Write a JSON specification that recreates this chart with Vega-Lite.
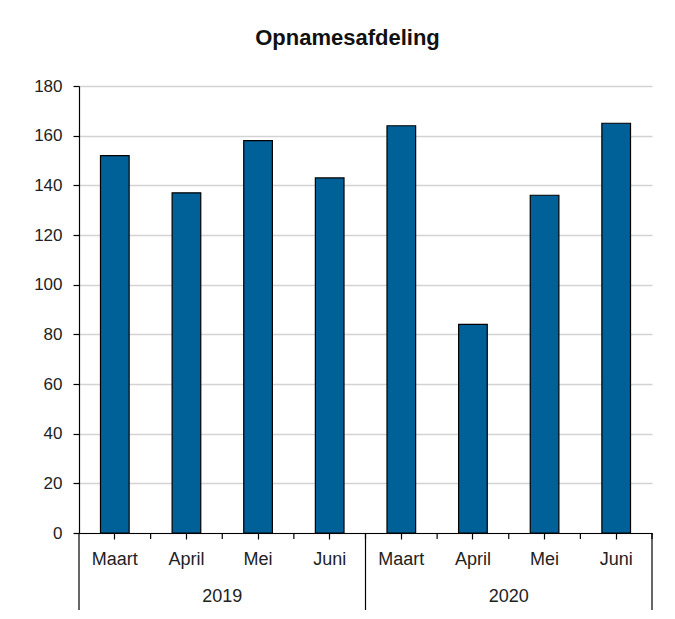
{
  "$schema": "https://vega.github.io/schema/vega-lite/v6.json",
  "autosize": {"type": "none"},
  "padding": {"left": 79, "top": 86, "right": 23, "bottom": 86},
  "width": 573,
  "height": 447,
  "title": {
    "text": "Opnamesafdeling",
    "font": "Liberation Sans",
    "fontSize": 22,
    "fontWeight": "bold",
    "color": "#111111",
    "anchor": "middle",
    "dx": -18,
    "offset": 27
  },
  "data": {
    "values": [
      {"year": "2019", "month": "Maart", "key": "2019 Maart", "value": 152},
      {"year": "2019", "month": "April", "key": "2019 April", "value": 137},
      {"year": "2019", "month": "Mei", "key": "2019 Mei", "value": 158},
      {"year": "2019", "month": "Juni", "key": "2019 Juni", "value": 143},
      {"year": "2020", "month": "Maart", "key": "2020 Maart", "value": 164},
      {"year": "2020", "month": "April", "key": "2020 April", "value": 84},
      {"year": "2020", "month": "Mei", "key": "2020 Mei", "value": 136},
      {"year": "2020", "month": "Juni", "key": "2020 Juni", "value": 165}
    ]
  },
  "encoding": {
    "x": {
      "field": "key",
      "type": "nominal",
      "sort": null,
      "scale": {"paddingInner": 0, "paddingOuter": 0},
      "axis": {
        "title": null,
        "labelExpr": "split(datum.value, ' ')[1]",
        "labelAngle": 0,
        "labelFont": "Liberation Sans",
        "labelFontSize": 18,
        "labelColor": "#222222",
        "labelPadding": 11,
        "domainColor": "#000000",
        "domainWidth": 1.2,
        "tickColor": "#000000",
        "tickSize": 6,
        "tickWidth": 1.2,
        "grid": false
      }
    }
  },
  "layer": [
    {
      "mark": {"type": "bar", "width": {"band": 0.4}, "fill": "#006098", "stroke": "#000000", "strokeWidth": 1.2},
      "encoding": {
        "y": {
          "field": "value",
          "type": "quantitative",
          "scale": {"domain": [0, 180]},
          "axis": {
            "title": null,
            "values": [0, 20, 40, 60, 80, 100, 120, 140, 160, 180],
            "labelFont": "Liberation Sans",
            "labelFontSize": 17,
            "labelColor": "#222222",
            "labelPadding": 11,
            "domainColor": "#000000",
            "domainWidth": 1.2,
            "tickColor": "#000000",
            "tickSize": 6,
            "tickWidth": 1.2,
            "gridColor": "#d3d3d3",
            "gridWidth": 1.5
          }
        }
      }
    },
    {
      "mark": {"type": "rule", "color": "#000000", "strokeWidth": 1.2, "y2Offset": 6},
      "encoding": {
        "x": {"field": "key", "type": "nominal", "sort": null, "bandPosition": 1},
        "y": {"datum": 0},
        "y2": {"datum": 0}
      }
    },
    {
      "transform": [{"filter": "datum.month == 'Maart'"}],
      "mark": {"type": "rule", "color": "#000000", "strokeWidth": 1.2, "y2Offset": 77},
      "encoding": {
        "x": {"field": "key", "type": "nominal", "sort": null, "bandPosition": 0},
        "y": {"datum": 0},
        "y2": {"datum": 0}
      }
    },
    {
      "transform": [{"filter": "datum.month == 'Juni' && datum.year == '2020'"}],
      "mark": {"type": "rule", "color": "#000000", "strokeWidth": 1.2, "y2Offset": 77},
      "encoding": {
        "x": {"field": "key", "type": "nominal", "sort": null, "bandPosition": 1},
        "y": {"datum": 0},
        "y2": {"datum": 0}
      }
    },
    {
      "transform": [{"filter": "datum.month == 'April'"}],
      "mark": {"type": "text", "font": "Liberation Sans", "fontSize": 18, "color": "#222222", "baseline": "middle", "yOffset": 64},
      "encoding": {
        "x": {"field": "key", "type": "nominal", "sort": null, "bandPosition": 1},
        "y": {"datum": 0},
        "text": {"field": "year"}
      }
    }
  ],
  "config": {
    "view": {"stroke": null}
  }
}
